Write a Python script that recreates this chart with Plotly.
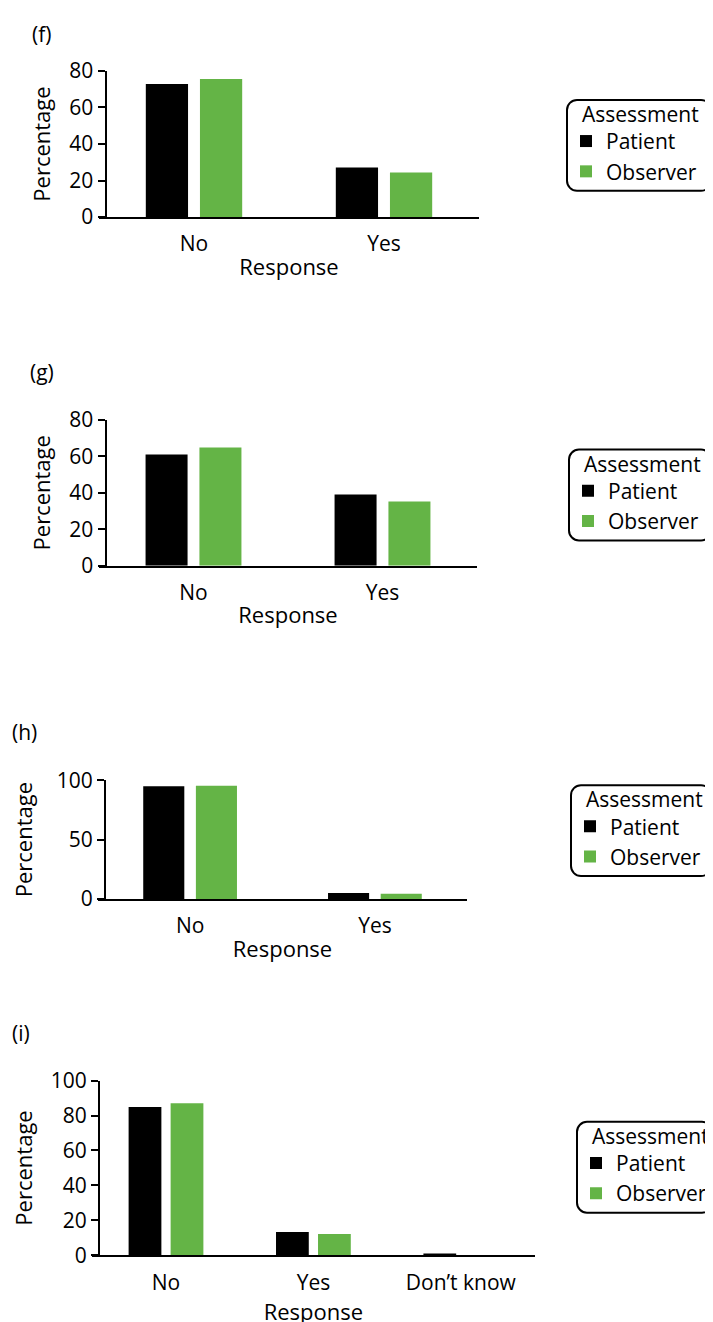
import plotly.graph_objects as go

OFF_X = 8      # horizontal offset of the figure in the picture
OFF_Y = 22     # observed vertical offset of the figure in the picture
SCALE_Y = 0.98 # observed vertical scale of the figure in the picture
W = 705
H = 1330
FONT = "Open Sans"
BLACK = "#000000"
GREEN = "#64B446"

# ---------------- data ----------------
panel_labels = ["(f)", "(g)", "(h)", "(i)"]
series_names = ["Patient", "Observer"]
legend_title = "Assessment"
x_title = "Response"
y_title = "Percentage"

cats_f = ["No", "Yes"]
patient_f = [72.8, 27.2]
observer_f = [75.6, 24.4]

cats_g = ["No", "Yes"]
patient_g = [61.0, 39.0]
observer_g = [64.8, 35.2]

cats_h = ["No", "Yes"]
patient_h = [94.8, 5.2]
observer_h = [95.3, 4.4]

cats_i = ["No", "Yes", "Don\u2019t know"]
patient_i = [84.9, 13.4, 1.0]
observer_i = [87.0, 12.2, 0.0]

yticks_f = [0, 20, 40, 60, 80]
yticks_g = [0, 20, 40, 60, 80]
yticks_h = [0, 50, 100]
yticks_i = [0, 20, 40, 60, 80, 100]

panels = [
    dict(cats=cats_f, p=patient_f, o=observer_f, yt=yticks_f),
    dict(cats=cats_g, p=patient_g, o=observer_g, yt=yticks_g),
    dict(cats=cats_h, p=patient_h, o=observer_h, yt=yticks_h),
    dict(cats=cats_i, p=patient_i, o=observer_i, yt=yticks_i),
]

# ---------------- layout geometry (picture pixels) ----------------
geom = [
    dict(x0=99, x1=479, top=70, bot=216.3, ypos=105.5, lab=(30, 33), ts=12, xs=3,
         box=(567, 99, 711, 190)),
    dict(x0=99, x1=477, top=419.3, bot=565.3, ypos=105.5, lab=(28, 371), ts=12, xs=3,
         box=(569, 449, 711, 540)),
    dict(x0=97.7, x1=467.3, top=780, bot=899, ypos=105, lab=(10, 732), ts=18, xs=3,
         box=(571, 785, 711, 876)),
    dict(x0=92.3, x1=534.5, top=1080.7, bot=1255.7, ypos=99, lab=(10, 1033), ts=18, xs=0,
         box=(577, 1122, 712, 1213)),
]


def px(x):
    return (x - OFF_X) / W


def py(y):
    return 1 - ((y - OFF_Y) / SCALE_Y) / H


def rounded_box(x0, y0, x1, y1, r=10):
    k = 0.45
    pts = [
        f"M {px(x0 + r)},{py(y0)}",
        f"L {px(x1 - r)},{py(y0)}",
        f"C {px(x1 - r * k)},{py(y0)} {px(x1)},{py(y0 + r * k)} {px(x1)},{py(y0 + r)}",
        f"L {px(x1)},{py(y1 - r)}",
        f"C {px(x1)},{py(y1 - r * k)} {px(x1 - r * k)},{py(y1)} {px(x1 - r)},{py(y1)}",
        f"L {px(x0 + r)},{py(y1)}",
        f"C {px(x0 + r * k)},{py(y1)} {px(x0)},{py(y1 - r * k)} {px(x0)},{py(y1 - r)}",
        f"L {px(x0)},{py(y0 + r)}",
        f"C {px(x0)},{py(y0 + r * k)} {px(x0 + r * k)},{py(y0)} {px(x0 + r)},{py(y0)}",
        "Z",
    ]
    return " ".join(pts)


fig = go.Figure()
layout = dict(
    width=W, height=H, margin=dict(l=0, r=0, t=0, b=0), autosize=False,
    paper_bgcolor="white", plot_bgcolor="white",
    font=dict(family=FONT, size=21, color="black"),
    barmode="group", bargap=0.43, bargroupgap=0.22,
    shapes=[], annotations=[],
)

for i, (pn, g) in enumerate(zip(panels, geom)):
    n = i + 1
    xa = "x" if n == 1 else f"x{n}"
    ya = "y" if n == 1 else f"y{n}"
    leg = "legend" if n == 1 else f"legend{n}"
    for name, vals, col in [(series_names[0], pn["p"], BLACK),
                            (series_names[1], pn["o"], GREEN)]:
        fig.add_trace(go.Bar(
            x=pn["cats"], y=vals, name=name, marker=dict(color=col, line=dict(width=0)),
            xaxis=xa, yaxis=ya, legend=leg, showlegend=True,
        ))
    ymax = pn["yt"][-1]
    xkey = "xaxis" if n == 1 else f"xaxis{n}"
    ykey = "yaxis" if n == 1 else f"yaxis{n}"
    layout[xkey] = dict(
        domain=[px(g["x0"]), px(g["x1"])], anchor=ya,
        range=[-0.5, len(pn["cats"]) - 0.5],
        showline=True, linecolor="black", linewidth=2, ticks="",
        showgrid=False, zeroline=False, ticklabelstandoff=7,
        tickfont=dict(size=21),
        title=dict(text=x_title, standoff=g["xs"], font=dict(size=22)),
        fixedrange=True,
    )
    layout[ykey] = dict(
        domain=[py(g["bot"]), py(g["top"])], anchor="free", position=px(g["ypos"]),
        range=[0, ymax], tickvals=pn["yt"],
        showline=True, linecolor="black", linewidth=2,
        ticks="outside", ticklen=7, tickwidth=2, tickcolor="black",
        showgrid=False, zeroline=False, tickfont=dict(size=21),
        title=dict(text=y_title, standoff=g["ts"], font=dict(size=22)),
        fixedrange=True,
    )
    bx0, by0, bx1, by1 = g["box"]
    layout[leg] = dict(
        x=px(bx0 - 1), y=py(by0 + 21), xanchor="left", yanchor="top",
        bgcolor="rgba(0,0,0,0)", borderwidth=0,
        font=dict(size=21), itemwidth=30, tracegroupgap=0,
    )
    layout["shapes"].append(dict(
        type="path", xref="paper", yref="paper",
        path=rounded_box(bx0, by0, bx1, by1),
        line=dict(color="black", width=2), fillcolor="rgba(0,0,0,0)",
    ))
    # legend heading
    layout["annotations"].append(dict(
        text=legend_title, xref="paper", yref="paper",
        x=px(bx0 + 13), y=py(by0 + 14), xanchor="left", yanchor="middle",
        showarrow=False, font=dict(size=21),
    ))
    lx, ly = g["lab"]
    layout["annotations"].append(dict(
        text=panel_labels[i], xref="paper", yref="paper",
        x=px(lx), y=py(ly), xanchor="left", yanchor="middle",
        showarrow=False, font=dict(size=21),
    ))

fig.update_layout(**layout)
fig.write_html("out.html")
